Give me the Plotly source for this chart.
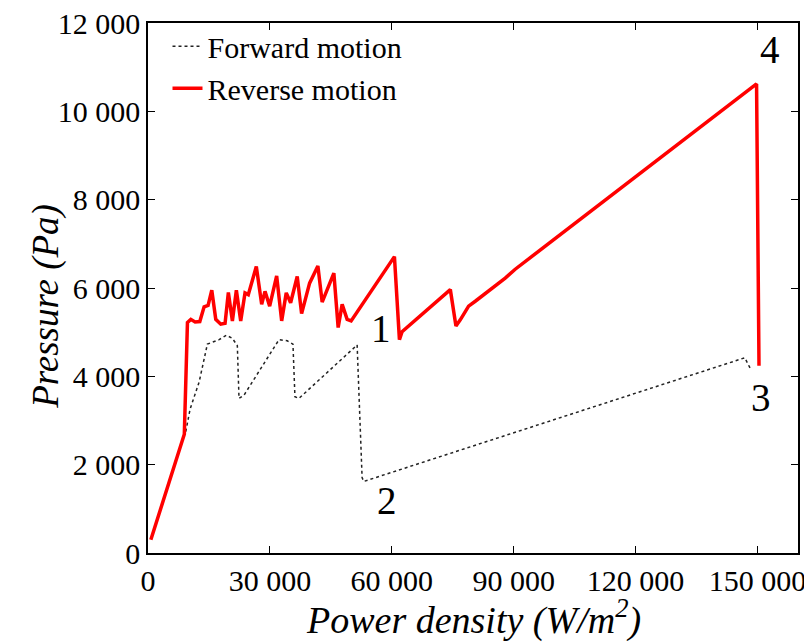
import plotly.graph_objects as go

# Reverse motion (red solid)
rev_x = [700, 8940, 9710, 10540, 11600, 12750, 13810, 14790, 15700, 16680, 17910, 18970,
         19780, 20770, 21750, 22820, 23880, 24690, 26660, 27980, 28800, 29950, 31670,
         32900, 34030, 35110, 36730, 37810, 39780, 41820, 42870, 45750, 46810, 47790,
         49020, 50000, 60660, 61890, 62540, 74420, 75800, 76870, 78920, 80560, 87930,
         90390, 149800, 150400]
rev_y = [300, 2690, 5217, 5290, 5230, 5240, 5575, 5605, 5950, 5290, 5180, 5200,
         5900, 5255, 5950, 5255, 5890, 5850, 6485, 5630, 5925, 5590, 6275,
         5255, 5890, 5665, 6260, 5420, 6110, 6500, 5680, 6335, 5105, 5630,
         5290, 5255, 6710, 4830, 5010, 5963, 5140, 5280, 5590, 5700, 6225,
         6425, 10620, 4240]

# Forward motion (black dotted)
fwd_x = [9300, 10370, 12580, 13810, 14620, 17500, 19290, 20770, 21990, 22400, 23640,
         32240, 34280, 35680, 36170, 37150, 51480, 52700, 53100, 146900, 147700, 148300]
fwd_y = [2750, 3260, 3870, 4400, 4730, 4830, 4930, 4860, 4695, 3500, 3575,
         4830, 4805, 4730, 3540, 3500, 4710, 1710, 1620, 4420, 4290, 4170]

# Point labels
lab_text = ["1", "2", "3", "4"]
lab_x = [57280, 58760, 150820, 153030]
lab_y = [5087, 1193, 3512, 11390]

x_ticks = [0, 30000, 60000, 90000, 120000, 150000]
x_tick_text = ["0", "30 000", "60 000", "90 000", "120 000", "150 000"]
y_ticks = [0, 2000, 4000, 6000, 8000, 10000, 12000]
y_tick_text = ["0", "2 000", "4 000", "6 000", "8 000", "10 000", "12 000"]

FONT = "Liberation Serif"

fig = go.Figure()
fig.add_trace(go.Scatter(x=fwd_x, y=fwd_y, mode="lines", name="Forward motion",
                         line=dict(color="#222222", width=1.5, dash="dot")))
fig.add_trace(go.Scatter(x=rev_x, y=rev_y, mode="lines", name="Reverse motion",
                         line=dict(color="#ff0000", width=3.5)))

for t, x, y in zip(lab_text, lab_x, lab_y):
    fig.add_annotation(x=x, y=y, text=t, showarrow=False,
                       font=dict(family=FONT, size=39, color="black"))

# Axis titles (placed as paper annotations for precise positioning)
fig.add_annotation(xref="paper", yref="paper", x=0.5, y=-0.122,
                   xanchor="center", yanchor="middle", showarrow=False,
                   text="<i>Power density (W/m<sup>2</sup>)</i>",
                   font=dict(family=FONT, size=38, color="black"))
fig.add_annotation(xref="paper", yref="paper", x=-0.158, y=0.465,
                   xanchor="center", yanchor="middle", showarrow=False, textangle=-90,
                   text="<i>Pressure (Pa)</i>",
                   font=dict(family=FONT, size=37, color="black"))

fig.update_layout(
    width=812, height=644,
    margin=dict(l=140, r=22, t=12, b=99),
    paper_bgcolor="white", plot_bgcolor="white",
    font=dict(family=FONT, size=29, color="black"),
    showlegend=True,
    legend=dict(x=0.03, y=1.005, xanchor="left", yanchor="top",
                bgcolor="rgba(0,0,0,0)", font=dict(family=FONT, size=30),
                tracegroupgap=0, itemwidth=30),
)
fig.update_xaxes(range=[0, 160000], tickvals=x_ticks, ticktext=x_tick_text,
                 ticks="inside", ticklen=7, tickcolor="black", showline=True,
                 linecolor="black", linewidth=1.5, mirror="ticks", showgrid=False,
                 zeroline=False, tickfont=dict(family=FONT, size=30), automargin=False,
                 ticklabeloverflow="allow")
fig.update_yaxes(range=[0, 12000], tickvals=y_ticks, ticktext=y_tick_text,
                 ticks="inside", ticklen=7, tickcolor="black", showline=True,
                 linecolor="black", linewidth=1.5, mirror="ticks", showgrid=False,
                 zeroline=False, tickfont=dict(family=FONT, size=30), automargin=False,
                 ticklabeloverflow="allow")

fig.write_html("out.html")
